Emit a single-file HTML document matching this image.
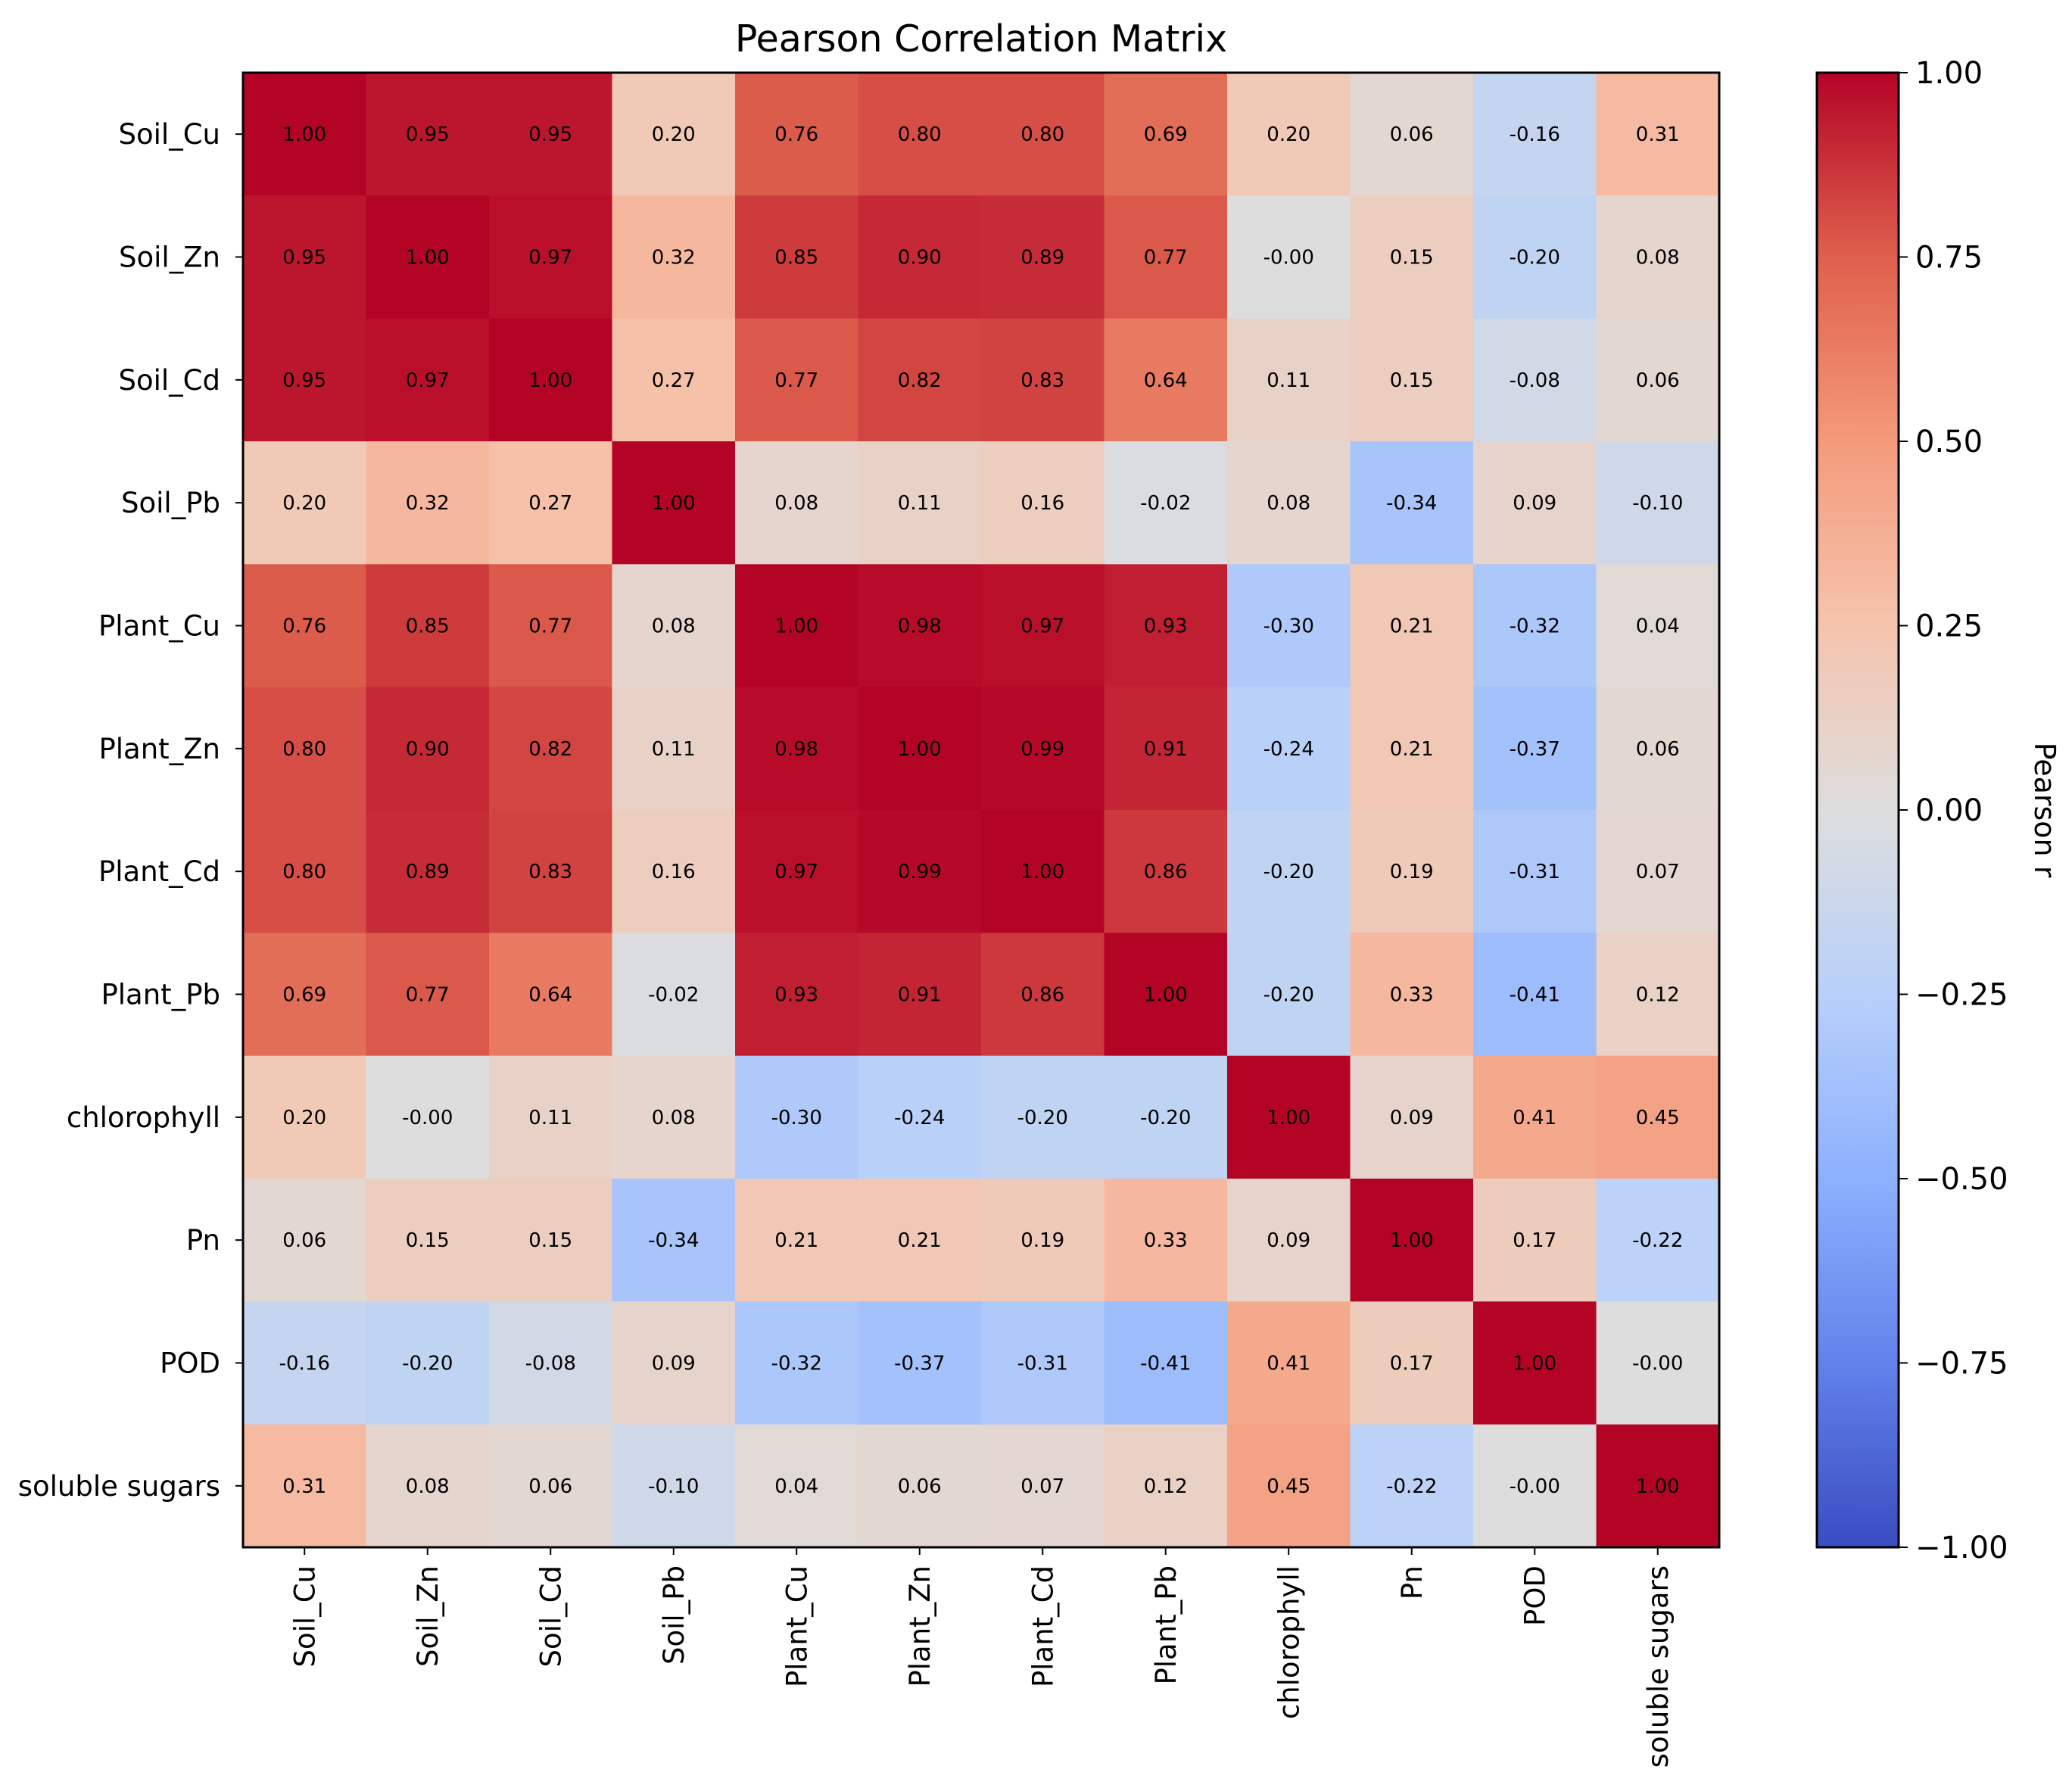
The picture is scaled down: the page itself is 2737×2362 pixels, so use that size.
<!DOCTYPE html>
<html><head><meta charset="utf-8">
<style>
html,body{margin:0;padding:0;background:#fff;}
svg{display:block;font-family:"DejaVu Sans","Liberation Sans",sans-serif;}
</style></head>
<body>
<svg id="chart" width="2737" height="2362" viewBox="0 0 2737 2362" xmlns="http://www.w3.org/2000/svg">
<defs>
<linearGradient id="cbgrad" x1="0" y1="1" x2="0" y2="0">
<stop offset="0" stop-color="rgb(58,76,193)"/>
<stop offset="0.125" stop-color="rgb(98,130,234)"/>
<stop offset="0.25" stop-color="rgb(141,176,254)"/>
<stop offset="0.375" stop-color="rgb(184,208,249)"/>
<stop offset="0.5" stop-color="rgb(221,221,221)"/>
<stop offset="0.625" stop-color="rgb(245,196,173)"/>
<stop offset="0.75" stop-color="rgb(244,154,123)"/>
<stop offset="0.875" stop-color="rgb(222,96,77)"/>
<stop offset="1" stop-color="rgb(180,4,38)"/>
</linearGradient>
</defs>
<text x="1296" y="68" font-size="49" text-anchor="middle">Pearson Correlation Matrix</text>
<g id="cells"></g>
<g id="yaxis"></g>
<g id="xaxis"></g>
<rect x="321" y="96" width="1950" height="1948" fill="none" stroke="#000" stroke-width="3"/>
<rect x="2400" y="96" width="108" height="1948" fill="url(#cbgrad)" stroke="#000" stroke-width="3"/>
<g id="cbticks"></g>
<text transform="translate(2688,1070) rotate(90)" font-size="38" text-anchor="middle">Pearson r</text>
</svg>
<script>
const labels = ["Soil_Cu","Soil_Zn","Soil_Cd","Soil_Pb","Plant_Cu","Plant_Zn","Plant_Cd","Plant_Pb","chlorophyll","Pn","POD","soluble sugars"];
const row0 = [1.00,0.95,0.95,0.20,0.76,0.80,0.80,0.69,0.20,0.06,-0.16,0.31];
const row1 = [0.95,1.00,0.97,0.32,0.85,0.90,0.89,0.77,-0.00,0.15,-0.20,0.08];
const row2 = [0.95,0.97,1.00,0.27,0.77,0.82,0.83,0.64,0.11,0.15,-0.08,0.06];
const row3 = [0.20,0.32,0.27,1.00,0.08,0.11,0.16,-0.02,0.08,-0.34,0.09,-0.10];
const row4 = [0.76,0.85,0.77,0.08,1.00,0.98,0.97,0.93,-0.30,0.21,-0.32,0.04];
const row5 = [0.80,0.90,0.82,0.11,0.98,1.00,0.99,0.91,-0.24,0.21,-0.37,0.06];
const row6 = [0.80,0.89,0.83,0.16,0.97,0.99,1.00,0.86,-0.20,0.19,-0.31,0.07];
const row7 = [0.69,0.77,0.64,-0.02,0.93,0.91,0.86,1.00,-0.20,0.33,-0.41,0.12];
const row8 = [0.20,-0.00,0.11,0.08,-0.30,-0.24,-0.20,-0.20,1.00,0.09,0.41,0.45];
const row9 = [0.06,0.15,0.15,-0.34,0.21,0.21,0.19,0.33,0.09,1.00,0.17,-0.22];
const row10 = [-0.16,-0.20,-0.08,0.09,-0.32,-0.37,-0.31,-0.41,0.41,0.17,1.00,-0.00];
const row11 = [0.31,0.08,0.06,-0.10,0.04,0.06,0.07,0.12,0.45,-0.22,-0.00,1.00];
const matrix = [row0,row1,row2,row3,row4,row5,row6,row7,row8,row9,row10,row11];
const cbTickValues = [1.00,0.75,0.50,0.25,0.00,-0.25,-0.50,-0.75,-1.00];

const NS="http://www.w3.org/2000/svg";
const X0=321,X1=2271,Y0=96,Y1=2044;
const n=labels.length;
const cw=(X1-X0)/n, ch=(Y1-Y0)/n;
function xPos(i){return X0+i*cw;}
function yPos(j){return Y0+j*ch;}
function cbY(v){return Y1-(v+1)/2*(Y1-Y0);}
const stops=[[58,76,193],[98,130,234],[141,176,254],[184,208,249],[221,221,221],[245,196,173],[244,154,123],[222,96,77],[180,4,38]];
function cmap(v){
  let t=Math.max(0,Math.min(1,(v+1)/2))*8;
  let k=Math.min(7,Math.floor(t)), f=t-k;
  const a=stops[k],b=stops[k+1];
  return `rgb(${Math.round(a[0]+(b[0]-a[0])*f)},${Math.round(a[1]+(b[1]-a[1])*f)},${Math.round(a[2]+(b[2]-a[2])*f)})`;
}
function fmt(v){return (v<0||Object.is(v,-0))?'-'+Math.abs(v).toFixed(2):v.toFixed(2);}
function mk(tag,attrs){const e=document.createElementNS(NS,tag);for(const k in attrs)e.setAttribute(k,attrs[k]);return e;}
const cells=document.getElementById('cells');
matrix.forEach((row,j)=>{
  row.forEach((v,i)=>{
    const r=mk('rect',{x:xPos(i),y:yPos(j),width:cw+0.6,height:ch+0.6,fill:cmap(v)});
    
    
    cells.appendChild(r);
    const t=mk('text',{x:xPos(i)+cw/2,y:yPos(j)+ch/2+9,'font-size':26,'text-anchor':'middle',fill:'#000'});
    
    
    t.textContent=fmt(v);
    cells.appendChild(t);
  });
});
const ya=document.getElementById('yaxis');
labels.forEach((l,j)=>{
  const cy=yPos(j)+ch/2;
  const tk=mk('line',{x1:X0-10,y1:cy,x2:X0,y2:cy,stroke:'#000','stroke-width':2});
  
  
  ya.appendChild(tk);
  const t=mk('text',{x:X0-30,y:cy+13,'font-size':37,'text-anchor':'end'});
  
  
  t.textContent=l;
  ya.appendChild(t);
});
const xa=document.getElementById('xaxis');
labels.forEach((l,i)=>{
  const cx=xPos(i)+cw/2;
  const tk=mk('line',{x1:cx,y1:Y1,x2:cx,y2:Y1+10,stroke:'#000','stroke-width':2});
  
  
  xa.appendChild(tk);
  const t=mk('text',{transform:`translate(${cx+13},${Y1+24}) rotate(-90)`,'font-size':37,'text-anchor':'end'});
  
  
  t.textContent=l;
  xa.appendChild(t);
});
const cb=document.getElementById('cbticks');
cbTickValues.forEach(v=>{
  const y=cbY(v);
  const tk=mk('line',{x1:2508,y1:y,x2:2520,y2:y,stroke:'#000','stroke-width':2});
  
  
  cb.appendChild(tk);
  const t=mk('text',{x:2530,y:y+14,'font-size':40});
  
  
  t.textContent=(v<0?'\u2212':'')+Math.abs(v).toFixed(2);
  cb.appendChild(t);
});
</script>
</body></html>
